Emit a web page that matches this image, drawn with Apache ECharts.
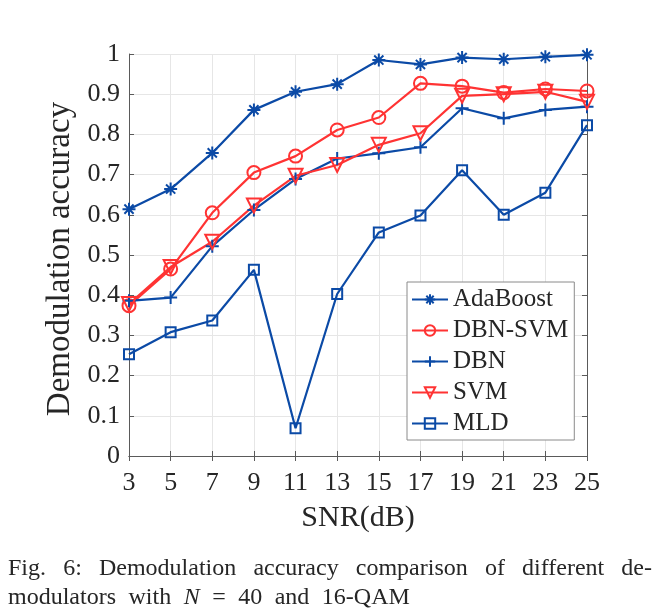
<!DOCTYPE html>
<html>
<head>
<meta charset="utf-8">
<script src="https://cdn.jsdelivr.net/npm/echarts@6/dist/echarts.min.js"></script>
<style>
html,body{margin:0;padding:0;background:#fff;}
#chart{width:664px;height:613px;}
</style>
</head>
<body>
<div id="chart"></div>
<script>
// ---- data ----
var snr = ['3','5','7','9','11','13','15','17','19','21','23','25'];
var adaboost = [0.614,0.664,0.754,0.861,0.906,0.925,0.985,0.974,0.991,0.987,0.993,0.998];
var dbnSvm   = [0.374,0.465,0.605,0.705,0.746,0.811,0.842,0.927,0.920,0.904,0.913,0.908];
var dbn      = [0.386,0.394,0.522,0.612,0.689,0.740,0.753,0.768,0.865,0.840,0.861,0.869];
var svm      = [0.378,0.470,0.533,0.623,0.697,0.724,0.774,0.803,0.896,0.900,0.906,0.881];
var mld      = [0.253,0.308,0.337,0.463,0.069,0.403,0.556,0.598,0.711,0.600,0.655,0.823];
var seriesNames = ['AdaBoost','DBN-SVM','DBN','SVM','MLD'];
var xLabel = 'SNR(dB)';
var yLabel = 'Demodulation accuracy';
var captionLine1 = 'Fig. 6: Demodulation accuracy comparison of different de-';
var captionLine2 = ['modulators', 'with', 'N', '=', '40', 'and', '16-QAM'];
var captionItalic = ['N'];

// ---- style ----
var BLUE = '#0b4aa6';
var RED = '#ff3333';
var FONT = 'Liberation Serif';
var TXT = '#262626';
var AX = '#5a5a5a';
var GRID = '#e6e6e6';
var NONE = 'rgba(0,0,0,0)';

var asterisk = 'path://M0,-10L0,10M-10,0L10,0M-7.07,-7.07L7.07,7.07M-7.07,7.07L7.07,-7.07';
var plus = 'path://M0,-10L0,10M-10,0L10,0';
var triDown = 'path://M-10,-8L10,-8L0,9Z';

function mk(name, data, color, symbol, size) {
  return {
    name: name, type: 'line', data: data,
    symbol: symbol, symbolSize: size, showAllSymbols: true,
    clip: false,
    lineStyle: {color: color, width: 2.2},
    itemStyle: {color: NONE, borderColor: color, borderWidth: 2},
    emphasis: {disabled: true},
    animation: false
  };
}

var chart = echarts.init(document.getElementById('chart'), null, {renderer: 'canvas'});

// caption layout: line 1 justified, line 2 with TeX-like wide spaces
var ctx = document.createElement('canvas').getContext('2d');
var CAP_SIZE = 24;
var capFont = CAP_SIZE + 'px "' + FONT + '"';
var capFontI = 'italic ' + CAP_SIZE + 'px "' + FONT + '"';
var capLeft = 8, capRight = 652;
var capGraphics = [];

ctx.font = capFont;
var words = captionLine1.split(' ');
var widths = words.map(function(w){ return ctx.measureText(w).width; });
var total = widths.reduce(function(a,b){return a+b;},0);
var gap = (capRight - capLeft - total) / (words.length - 1);
var cx = capLeft;
words.forEach(function(w, i){
  capGraphics.push({type:'text', left: cx, top: 557, style:{text: w, font: capFont, fill: TXT}});
  cx += widths[i] + gap;
});

cx = capLeft;
captionLine2.forEach(function(w){
  var f = captionItalic.indexOf(w) >= 0 ? capFontI : capFont;
  ctx.font = f;
  var wd = ctx.measureText(w).width;
  capGraphics.push({type:'text', left: cx, top: 586, style:{text: w, font: f, fill: TXT}});
  cx += wd + 12.5;
});

var option = {
  backgroundColor: '#fff',
  animation: false,
  grid: {left: 129, right: 77, top: 54, bottom: 157, containLabel: false},
  legend: {
    orient: 'vertical', left: 407, top: 282,
    data: seriesNames,
    backgroundColor: '#fff', borderColor: '#8a8a8a', borderWidth: 1, borderRadius: 0,
    padding: [5, 6, 4, 4], itemGap: 6, itemWidth: 36, itemHeight: 13,
    textStyle: {fontFamily: FONT, fontSize: 25, color: TXT, lineHeight: 25},
    selectedMode: false
  },
  xAxis: [{
    type: 'category', data: snr, boundaryGap: false,
    name: xLabel, nameLocation: 'middle', nameGap: 47,
    nameTextStyle: {fontFamily: FONT, fontSize: 30, color: TXT},
    axisLine: {lineStyle: {color: AX, width: 1}},
    axisTick: {inside: true, length: 5, lineStyle: {color: AX}},
    axisLabel: {fontFamily: FONT, fontSize: 26, color: TXT, margin: 14},
    splitLine: {show: true, lineStyle: {color: GRID, width: 1}}
  }, {
    type: 'category', data: snr, boundaryGap: false, position: 'top',
    axisLine: {lineStyle: {color: AX, width: 1}},
    axisTick: {inside: true, length: 5, lineStyle: {color: AX}},
    axisLabel: {show: false}, splitLine: {show: false}
  }],
  yAxis: [{
    type: 'value', min: 0, max: 1, interval: 0.1,
    name: yLabel, nameLocation: 'middle', nameGap: 50,
    nameTextStyle: {fontFamily: FONT, fontSize: 33, color: TXT, padding: [0, 8, 0, 0]},
    axisLine: {show: true, lineStyle: {color: AX, width: 1}},
    axisTick: {show: true, inside: true, length: 5, lineStyle: {color: AX}},
    axisLabel: {fontFamily: FONT, fontSize: 26, color: TXT, margin: 9,
      formatter: function(v){ return (v === 0 || v === 1) ? String(v) : v.toFixed(1); }},
    splitLine: {show: true, lineStyle: {color: GRID, width: 1}}
  }, {
    type: 'value', min: 0, max: 1, interval: 0.1, position: 'right',
    axisLine: {show: true, lineStyle: {color: AX, width: 1}},
    axisTick: {show: true, inside: true, length: 5, lineStyle: {color: AX}},
    axisLabel: {show: false}, splitLine: {show: false}
  }],
  series: [
    mk(seriesNames[0], adaboost, BLUE, asterisk, 13),
    mk(seriesNames[1], dbnSvm, RED, 'circle', 13),
    mk(seriesNames[2], dbn, BLUE, plus, 13),
    mk(seriesNames[3], svm, RED, triDown, 14),
    mk(seriesNames[4], mld, BLUE, 'rect', 10)
  ],
  graphic: capGraphics
};
chart.setOption(option);
</script>
</body>
</html>
